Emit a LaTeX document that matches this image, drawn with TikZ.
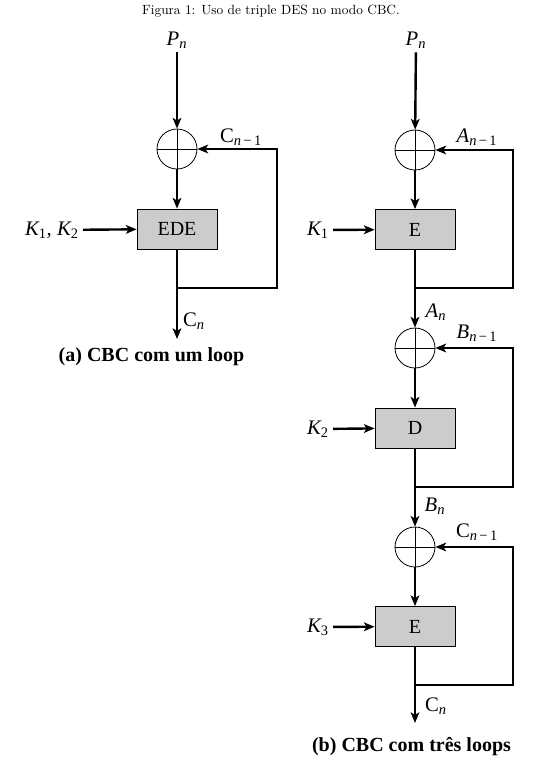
\documentclass[tikz,border=0pt]{standalone}
\usepackage{fontspec}
\newfontfamily\tms{Liberation Serif}
\usetikzlibrary{arrows.meta, positioning}

\newcommand{\lblsub}[2]{#1\textsubscript{#2}}

\begin{document}
\begin{tikzpicture}[x=0.75pt, y=-0.75pt,
    lbl/.style={font=\tms\fontsize{15.5}{18}\selectfont, inner sep=3pt},
    legenda/.style={font=\tms\bfseries\fontsize{15}{18}\selectfont, inner sep=0pt},
    xorc/.style={draw, circle, line width=0.6pt, minimum size=30pt, inner sep=0pt},
    desbox/.style={draw, line width=0.6pt, fill=black!20, minimum width=60pt,
                   minimum height=30pt, inner sep=0pt, font=\tms\fontsize{15}{18}\selectfont},
    wire/.style={line width=1.8pt, -{Stealth[length=8pt, width=6.5pt, inset=2pt]}}]
    \useasboundingbox (0,0) rectangle (545,772);

    % --- 0. legenda da figura ---
    \node (fig) at (271,11) {Figura 1: Uso de triple DES no modo CBC.};

    % --- 1. (a) um loop: pontos e blocos ---
    \node[lbl] (Pa) at (177,40) {\itshape\lblsub{P}{n}};
    \node[xorc] (xa) at (177,149) {};
    \node[desbox] (ea) at (177,229) {EDE};
    \node[lbl, anchor=east] (ka) at (83,230) {\itshape\lblsub{K}{\upshape 1}, \lblsub{K}{\upshape 2}};
    \coordinate (ba) at (177,288);
    \coordinate (ra) at (277,149);
    \coordinate (oa) at (177,339);

    % --- 2. (a) ligacoes ---
    \draw[xorc] (xa.north) -- (xa.south) (xa.west) -- (xa.east);
    \draw[wire] (Pa) -- (xa);
    \draw[wire] (xa) -- (ea);
    \draw[wire] (ka) -- (ea);
    \draw[wire] (ea) -- (oa);
    \draw[wire] (ba) -| (ra) -- (xa);

    \node[lbl] (ca1) at (241,137) {\lblsub{C}{\itshape n\,\upshape −\,1}};
    \node[lbl] (ca2) at (194,321) {\lblsub{C}{\itshape n}};
    \node[legenda] (capa) at (151.5,357) {(a) CBC com um loop};

    % --- 3. (b) tres loops: pontos e blocos ---
    \node[lbl] (Pb) at (416,40) {\itshape\lblsub{P}{n}};
    \node[xorc] (x1) at (415,150) {};
    \node[desbox] (e1) at (415,229.5) {E};
    \node[lbl, anchor=east] (k1) at (333,230) {\itshape\lblsub{K}{\upshape 1}};
    \coordinate (b1) at (415,288);
    \coordinate (r1) at (513,150);

    \node[xorc] (x2) at (415,348) {};
    \node[desbox] (d2) at (415,428) {D};
    \node[lbl, anchor=east] (k2) at (333,429) {\itshape\lblsub{K}{\upshape 2}};
    \coordinate (b2) at (415,487);
    \coordinate (r2) at (513,348);

    \node[xorc] (x3) at (415,547) {};
    \node[desbox] (e3) at (415,626.5) {E};
    \node[lbl, anchor=east] (k3) at (333,627) {\itshape\lblsub{K}{\upshape 3}};
    \coordinate (b3) at (415,685);
    \coordinate (r3) at (513,547);
    \coordinate (ob) at (415,723);

    % --- 4. (b) ligacoes ---
    \draw[xorc] (x1.north) -- (x1.south) (x1.west) -- (x1.east);
    \draw[xorc] (x2.north) -- (x2.south) (x2.west) -- (x2.east);
    \draw[xorc] (x3.north) -- (x3.south) (x3.west) -- (x3.east);
    \draw[wire] (Pb) -- (x1);
    \draw[wire] (x1) -- (e1);
    \draw[wire] (k1) -- (e1);
    \draw[wire] (e1) -- (x2);
    \draw[wire] (b1) -| (r1) -- (x1);
    \draw[wire] (x2) -- (d2);
    \draw[wire] (k2) -- (d2);
    \draw[wire] (d2) -- (x3);
    \draw[wire] (b2) -| (r2) -- (x2);
    \draw[wire] (x3) -- (e3);
    \draw[wire] (k3) -- (e3);
    \draw[wire] (e3) -- (ob);
    \draw[wire] (b3) -| (r3) -- (x3);

    % --- 5. (b) rotulos ---
    \node[lbl] (a1) at (477,137) {\itshape\lblsub{A}{n\,\upshape −\,1}};
    \node[lbl] (a2) at (436,312) {\itshape\lblsub{A}{n}};
    \node[lbl] (bb1) at (477,333) {\itshape\lblsub{B}{n\,\upshape −\,1}};
    \node[lbl] (bb2) at (435,506) {\itshape\lblsub{B}{n}};
    \node[lbl] (cb1) at (477,532) {\lblsub{C}{\itshape n\,\upshape −\,1}};
    \node[lbl] (cb2) at (436,706) {\lblsub{C}{\itshape n}};
    \node[legenda] (capb) at (411.5,747) {(b) CBC com três loops};
\end{tikzpicture}
\end{document}
